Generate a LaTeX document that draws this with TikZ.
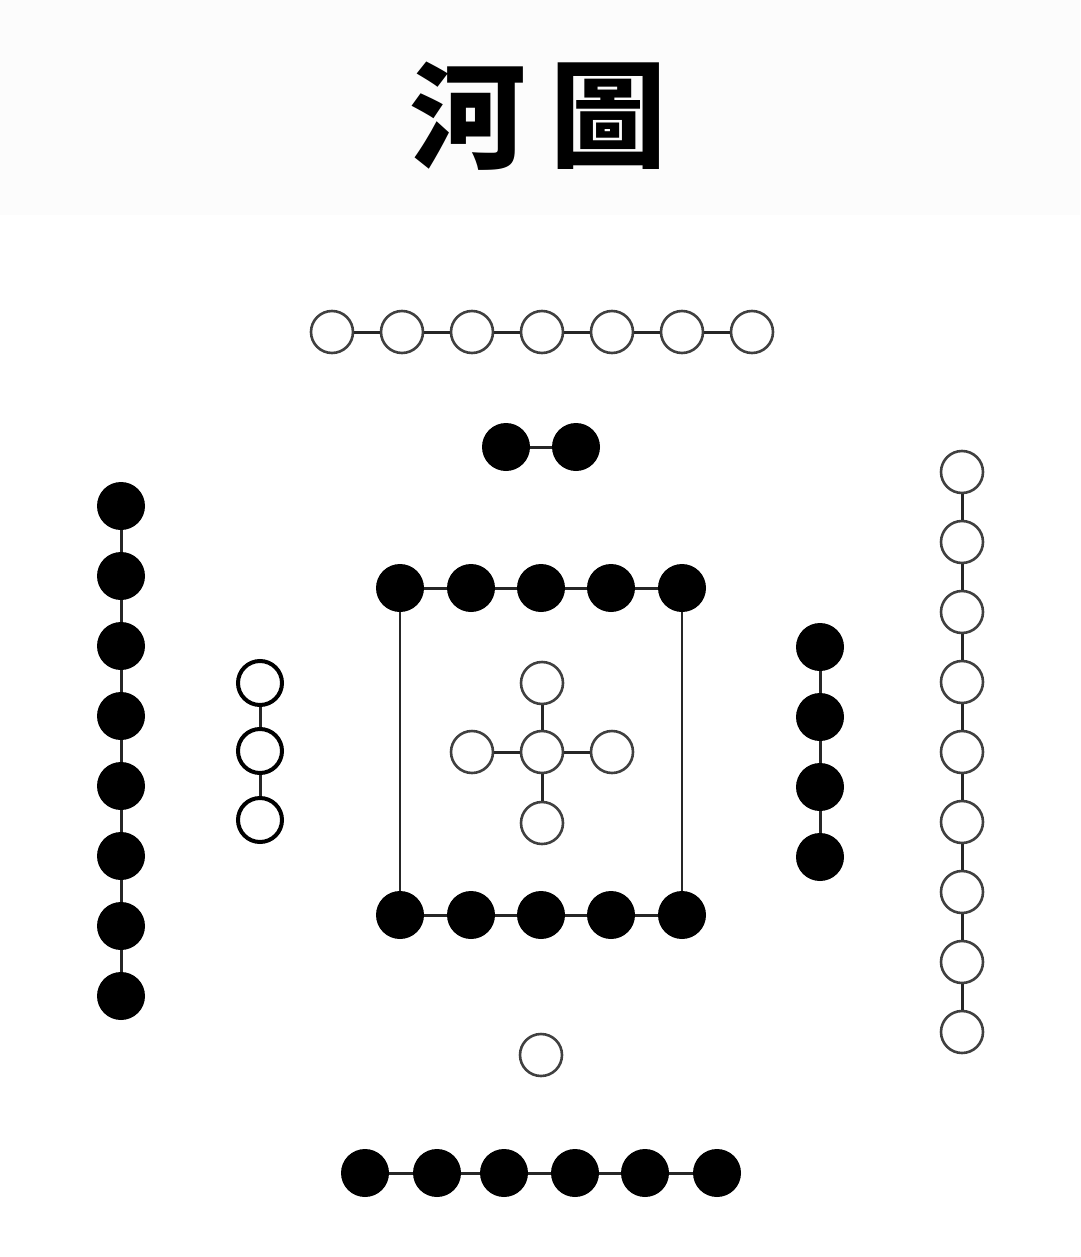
\documentclass[tikz,border=0pt]{standalone}
\usepackage{fontspec}
\newfontfamily\cjk{Noto Sans CJK TC}
\tikzset{
  wdot/.style={circle, draw=black!75, line width=2.6pt, fill=white, minimum size=42pt, inner sep=0pt},
  wthick/.style={circle, draw=black, line width=4pt, fill=white, minimum size=44pt, inner sep=0pt},
  bdot/.style={circle, fill=black, draw=none, minimum size=48pt, inner sep=0pt},
  link/.style={draw=black!85, line width=3pt},
  titlech/.style={font=\cjk\bfseries\fontsize{116}{116}\selectfont, inner sep=0pt}
}
\begin{document}
\begin{tikzpicture}[x=1pt,y=-1pt]
\fill[white] (0,0) rectangle (1080,1257);
\fill[black!1] (0,0) rectangle (1080,215);
\useasboundingbox (0,0) rectangle (1080,1257);
% title
\node[titlech] (he) at (468,116) {河};
\node[titlech] (tu) at (608,116) {圖};
% top row of 7 white
\foreach \i in {1,...,7} \node[wdot] (t\i) at ({332+70*(\i-1)},332) {};
\foreach \i [count=\j from 2] in {1,...,6} \draw[link] (t\i) -- (t\j);
% pair of black
\node[bdot] (p1) at (506,447) {};
\node[bdot] (p2) at (576,447) {};
\draw[link] (p1) -- (p2);
% left column of 8 black
\foreach \i in {1,...,8} \node[bdot] (l\i) at (121,{506+70*(\i-1)}) {};
\foreach \i [count=\j from 2] in {1,...,7} \draw[link] (l\i) -- (l\j);
% left small white column of 3
\node[wthick] (s1) at (260,683) {};
\node[wthick] (s2) at (260,751) {};
\node[wthick] (s3) at (260,820) {};
\draw[link] (s1) -- (s2);
\draw[link] (s2) -- (s3);
% central square
\foreach \x [count=\i] in {400,471,541,611,682} {
  \node[bdot] (q\i) at (\x,588) {};
  \node[bdot] (b\i) at (\x,915) {};
}
\foreach \i [count=\j from 2] in {1,...,4} {
  \draw[link] (q\i) -- (q\j);
  \draw[link] (b\i) -- (b\j);
}
\draw[link, line width=2.2pt] (q1) -- (b1);
\draw[link, line width=2.2pt] (q5) -- (b5);
% central cross
\node[wdot] (c0) at (542,752) {};
\node[wdot] (cu) at (542,683) {};
\node[wdot] (cd) at (542,823) {};
\node[wdot] (cl) at (472,752) {};
\node[wdot] (cr) at (612,752) {};
\draw[link] (c0) -- (cu);
\draw[link] (c0) -- (cd);
\draw[link] (c0) -- (cl);
\draw[link] (c0) -- (cr);
% right column of 4 black
\foreach \i in {1,...,4} \node[bdot] (r\i) at (820,{647+70*(\i-1)}) {};
\foreach \i [count=\j from 2] in {1,...,3} \draw[link] (r\i) -- (r\j);
% right column of 9 white
\foreach \i in {1,...,9} \node[wdot] (w\i) at (962,{472+70*(\i-1)}) {};
\foreach \i [count=\j from 2] in {1,...,8} \draw[link] (w\i) -- (w\j);
% bottom single white
\node[wdot] (u1) at (541,1055) {};
% bottom row of 6 black
\foreach \x [count=\i] in {365,437,504,575,645,717} \node[bdot] (d\i) at (\x,1173) {};
\foreach \i [count=\j from 2] in {1,...,5} \draw[link] (d\i) -- (d\j);
\end{tikzpicture}
\end{document}
